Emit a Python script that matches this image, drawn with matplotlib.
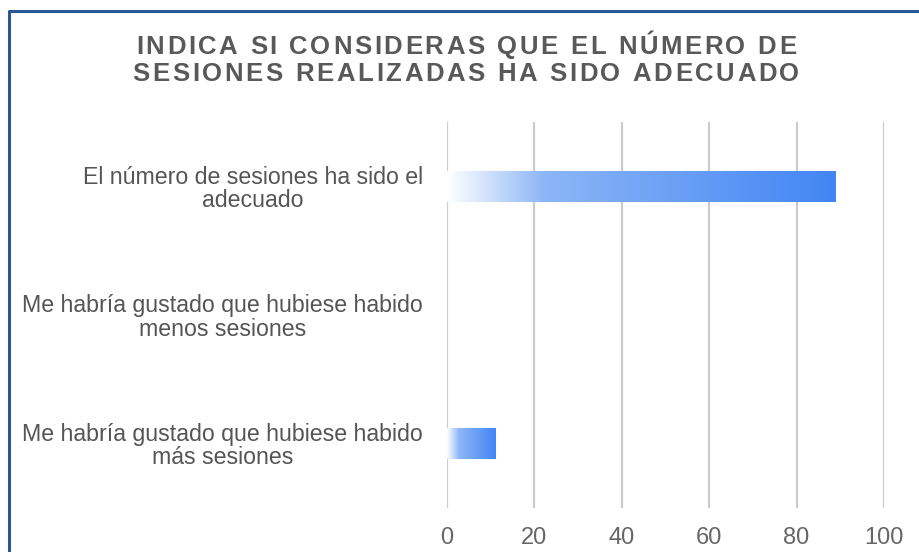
import numpy as np
import matplotlib
matplotlib.use("Agg")
import matplotlib.pyplot as plt
from matplotlib.colors import LinearSegmentedColormap
from matplotlib.lines import Line2D
import matplotlib.transforms as mtransforms

plt.rcParams['font.family'] = ['Liberation Sans', 'DejaVu Sans']

# Data
categories = [
    "El número de sesiones ha sido el\nadecuado",
    "Me habría gustado que hubiese habido\nmenos sesiones",
    "Me habría gustado que hubiese habido\nmás sesiones",
]
values = [89, 0, 11]
xticks = [0, 20, 40, 60, 80, 100]
title_lines = ["INDICA SI CONSIDERAS QUE EL NÚMERO DE",
               "SESIONES REALIZADAS HA SIDO ADECUADO"]

W, H = 919, 552
fig = plt.figure(figsize=(W / 100, H / 100), dpi=100)
ax = fig.add_axes([447 / W, 1 - 508 / H, (884 - 447) / W, (508 - 122) / H])

# gradient white -> blue along each bar
cmap = LinearSegmentedColormap.from_list(
    "bar", [(0, "#ffffff"), (0.25, "#8cb6f7"), (1, "#4285f4")])
grad = np.linspace(0, 1, 256).reshape(1, -1)

ypos = np.arange(len(categories))
bar_h = 0.24
bars = ax.barh(ypos, values, height=bar_h, color="none", edgecolor="none", zorder=3)
for b, v in zip(bars, values):
    if v <= 0:
        continue
    y0 = b.get_y()
    im = ax.imshow(grad, cmap=cmap, aspect="auto", zorder=3,
                   extent=[0, v, y0 + bar_h, y0], interpolation="bicubic")
    im.set_clip_path(b)

ax.set_xlim(0, 100)
ax.set_ylim(2.5, -0.5)
ax.set_xticks(xticks)
ax.set_xticklabels([str(t) for t in xticks], color="#666666", fontsize=17)
ax.tick_params(axis="x", length=0, pad=14)
ax.set_yticks([])

# category labels: right edge at ~423px, centred lines
lab_tr = mtransforms.blended_transform_factory(fig.transFigure, ax.transData)
lab_tr = lab_tr + mtransforms.ScaledTranslation(0, -2.5 / 100, fig.dpi_scale_trans)
for y, c in zip(ypos, categories):
    ax.text(423 / W, y, c, transform=lab_tr, ha="right", va="center",
            multialignment="center", fontsize=16.7, color="#555555",
            linespacing=1.02)

ax.grid(axis="x", color="#cccccc", linewidth=1.6, zorder=0)
ax.set_axisbelow(True)
for s in ax.spines.values():
    s.set_visible(False)

# title with letter spacing, placed char by char
renderer = fig.canvas.get_renderer()
tsize = 18.5
spacing = 2.6
probe = fig.text(0, 0, "a a", fontsize=tsize, fontweight="bold")
w_aa = probe.get_window_extent(renderer).width
probe.set_text("aa")
w_space = w_aa - probe.get_window_extent(renderer).width
probe.remove()
for line, base in zip(title_lines, [54, 81]):
    txts = [fig.text(0, 1 - base / H, ch, fontsize=tsize, fontweight="bold",
                     color="#595959", va="baseline", ha="left") for ch in line]
    widths = [t.get_window_extent(renderer).width if ch != " " else w_space
              for t, ch in zip(txts, line)]
    total = sum(widths) + spacing * (len(line) - 1)
    x = 466 - total / 2
    for t, w in zip(txts, widths):
        t.set_x(x / W)
        x += w + spacing

# frame border (left and top visible)
fig.add_artist(Line2D([9 / W, 9 / W, 1.0], [0.0, 1 - 11 / H, 1 - 11 / H],
                      transform=fig.transFigure, color="#2b5797", linewidth=2.2))

fig.savefig("out.png", dpi=100)
